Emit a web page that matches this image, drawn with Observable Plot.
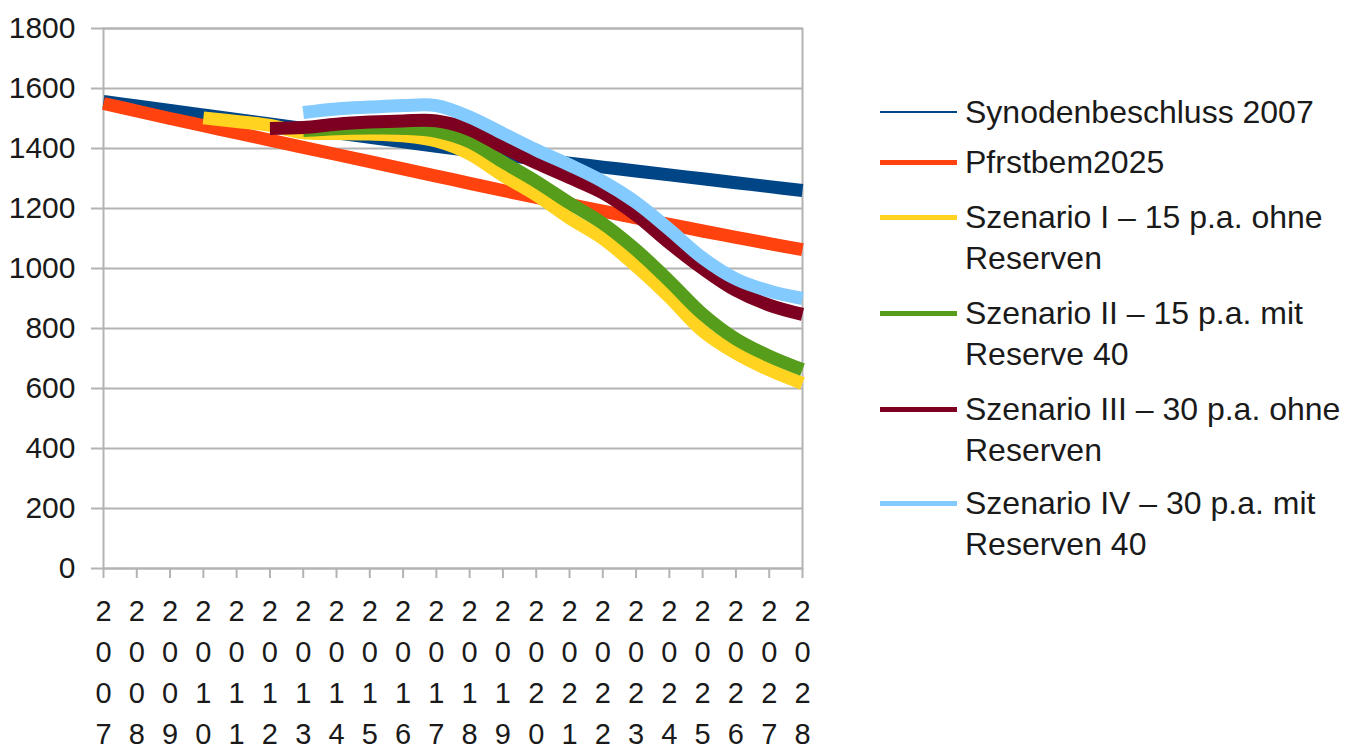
<!DOCTYPE html>
<html>
<head>
<meta charset="utf-8">
<script src="https://cdn.jsdelivr.net/npm/d3@7"></script>
<script src="https://cdn.jsdelivr.net/npm/@observablehq/plot@0.6"></script>
<style>
  html, body { margin: 0; padding: 0; background: #fff; }
  #wrap { position: relative; width: 1351px; height: 754px; overflow: hidden; font-family: "Liberation Sans", Arial, sans-serif; color: #1a1a1a; }
  #legend { position: absolute; left: 0; top: 0; }
  .entry { position: absolute; left: 880px; display: flex; align-items: flex-start; }
  .swatch { width: 77px; margin-top: 20px; margin-right: 8px; }
  .label { font-size: 32px; line-height: 41px; white-space: pre; margin-top: 0; }
</style>
</head>
<body>
<div id="wrap"><div id="chart"></div><div id="legend"></div></div>
<script>
// Jahre der Prognose
const years = [2007, 2008, 2009, 2010, 2011, 2012, 2013, 2014, 2015, 2016, 2017,
               2018, 2019, 2020, 2021, 2022, 2023, 2024, 2025, 2026, 2027, 2028];

// Pfarrstellen je Jahr (null = noch kein Wert)
const synode2007 = [1557, 1542, 1527, 1512, 1497, 1482, 1467, 1452, 1437, 1422, 1407,
                    1393, 1379, 1365, 1351, 1338, 1325, 1312, 1299, 1286, 1273, 1260];
const pfrstbem2025 = [1550, 1525, 1500, 1476, 1452, 1428, 1404, 1380, 1356, 1332, 1308,
                      1284, 1260, 1237, 1214, 1191, 1169, 1147, 1125, 1104, 1083, 1063];
const szenario1 = [null, null, null, 1502, 1490, 1477, 1452, 1450, 1448, 1442, 1425,
                   1382, 1310, 1245, 1168, 1100, 1008, 905, 792, 718, 662, 617];
const szenario2 = [null, null, null, null, null, null, 1460, 1466, 1468, 1467, 1457,
                   1422, 1355, 1290, 1218, 1150, 1062, 958, 848, 765, 708, 663];
const szenario3 = [null, null, null, null, null, 1467, 1470, 1481, 1488, 1492, 1492,
                   1463, 1405, 1352, 1303, 1252, 1178, 1085, 1000, 927, 878, 847];
const szenario4 = [null, null, null, null, null, null, 1520, 1532, 1538, 1543, 1543,
                   1505, 1450, 1395, 1345, 1290, 1220, 1130, 1035, 965, 925, 900];

const seriesNames = [
  "Synodenbeschluss 2007",
  "Pfrstbem2025",
  "Szenario I – 15 p.a. ohne\nReserven",
  "Szenario II – 15 p.a. mit\nReserve 40",
  "Szenario III – 30 p.a. ohne\nReserven",
  "Szenario IV – 30 p.a. mit\nReserven 40"
];
const seriesValues = [synode2007, pfrstbem2025, szenario1, szenario2, szenario3, szenario4];
const seriesColors = ["#004586", "#ff420e", "#ffd320", "#579d1c", "#7e0021", "#83caff"];
const yTicks = [0, 200, 400, 600, 800, 1000, 1200, 1400, 1600, 1800];

const gridColor = "#b3b3b3";

const lineMarks = seriesValues.map((vals, k) =>
  Plot.line(years.map((yr, i) => ({year: yr, value: vals[i]})), {
    x: "year",
    y: "value",
    stroke: seriesColors[k],
    strokeWidth: 13,
    strokeLinecap: "butt",
    strokeLinejoin: "round",
    curve: "catmull-rom"
  })
);

const chart = Plot.plot({
  width: 1351,
  height: 754,
  marginLeft: 103,
  marginRight: 549,
  marginTop: 28,
  marginBottom: 186,
  style: {fontFamily: "Liberation Sans, Arial, sans-serif", fontSize: "30px", color: "#1a1a1a", background: "#fff"},
  x: {domain: [2007, 2028]},
  y: {domain: [0, 1800]},
  marks: [
    Plot.gridY(yTicks, {stroke: gridColor, strokeOpacity: 1, strokeWidth: 2}),
    Plot.frame({stroke: gridColor, strokeWidth: 2}),
    Plot.axisY(yTicks, {
      tickSize: 12, tickPadding: 16, stroke: gridColor, strokeWidth: 2,
      fill: "#1a1a1a", fontSize: 30, label: null, tickFormat: d => String(d)
    }),
    Plot.axisX(years, {
      tickSize: 10, tickPadding: 13, stroke: gridColor, strokeWidth: 2,
      fill: "#1a1a1a", fontSize: 29, lineHeight: 1.42, label: null,
      tickFormat: d => String(d).split("").join("\n")
    }),
    ...lineMarks
  ]
});
document.getElementById("chart").appendChild(chart);

// Legende rechts neben dem Diagramm
const legendCenters = [112, 162, 217, 313, 409, 503];
const swatchWidths = [2, 5, 5, 5, 5, 5];
const legend = document.getElementById("legend");
seriesNames.forEach((name, k) => {
  const entry = document.createElement("div");
  entry.className = "entry";
  entry.style.top = (legendCenters[k] - 20.5) + "px";
  const sw = document.createElement("div");
  sw.className = "swatch";
  sw.style.height = swatchWidths[k] + "px";
  sw.style.marginTop = (20.5 - swatchWidths[k] / 2) + "px";
  sw.style.background = seriesColors[k];
  const lab = document.createElement("div");
  lab.className = "label";
  lab.textContent = name;
  entry.appendChild(sw);
  entry.appendChild(lab);
  legend.appendChild(entry);
});
</script>
</body>
</html>
